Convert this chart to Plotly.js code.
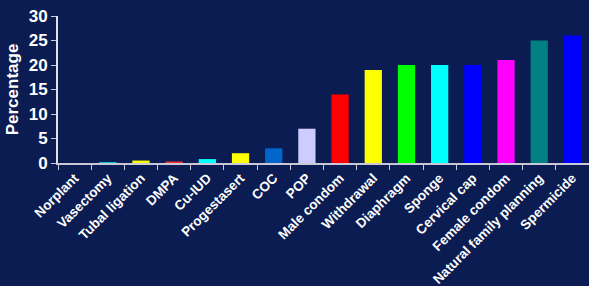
<!DOCTYPE html>
<html><head><meta charset="utf-8">
<script src="https://cdn.plot.ly/plotly-3.0.1.min.js"></script>
<style>html,body{margin:0;padding:0;background:#0A1C52;}</style>
</head><body>
<div id="chart" style="width:589px;height:286px;"></div>
<script>
const categories = ["Norplant","Vasectomy","Tubal ligation","DMPA","Cu-IUD","Progestasert","COC","POP","Male condom","Withdrawal","Diaphragm","Sponge","Cervical cap","Female condom","Natural family planning","Spermicide"];
const values = [0,0.15,0.5,0.3,0.8,2,3,7,14,19,20,20,20,21,25,26];
const colors = ["#00FFFF","#00FFFF","#FFFF00","#FF3030","#00FFFF","#FFFF00","#0066CC","#CCCCFF","#FF0000","#FFFF00","#00FF00","#00FFFF","#0000FF","#FF00FF","#008080","#0000FF"];
const yTicks = [0,5,10,15,20,25,30];

Plotly.newPlot('chart', [{
  type:'bar', x:categories, y:values, marker:{color:colors}, hoverinfo:'none'
}], {
  width:589, height:286,
  paper_bgcolor:'#0A1C52', plot_bgcolor:'#0A1C52',
  margin:{l:58, r:0, t:16, b:123},
  bargap:0.48,
  showlegend:false,
  font:{family:'"Liberation Sans Narrow", "Liberation Sans", Arial, sans-serif', color:'#FFFFFF'},
  xaxis:{
    tickangle:-45, ticks:'outside', ticklen:5, tickcolor:'#C8C8D8', tickson:'boundaries',
    showline:true, linecolor:'#C8C8D8', linewidth:2, showgrid:false,
    tickfont:{size:13.5, family:'"Liberation Sans", Arial, sans-serif', weight:'bold', color:'#FFFFFF'}
  },
  yaxis:{
    range:[0,30], tickvals:yTicks, ticks:'outside', ticklen:5, tickcolor:'#C8C8D8',
    showline:true, linecolor:'#E0E0E8', linewidth:2, showgrid:false, zeroline:false,
    tickfont:{size:17, weight:'bold', color:'#FFFFFF'},
    title:{text:'Percentage', font:{size:17, weight:'bold', family:'"Liberation Sans", Arial, sans-serif', color:'#FFFFFF'}, standoff:6}
  }
}, {staticPlot:true});
</script>
</body></html>
